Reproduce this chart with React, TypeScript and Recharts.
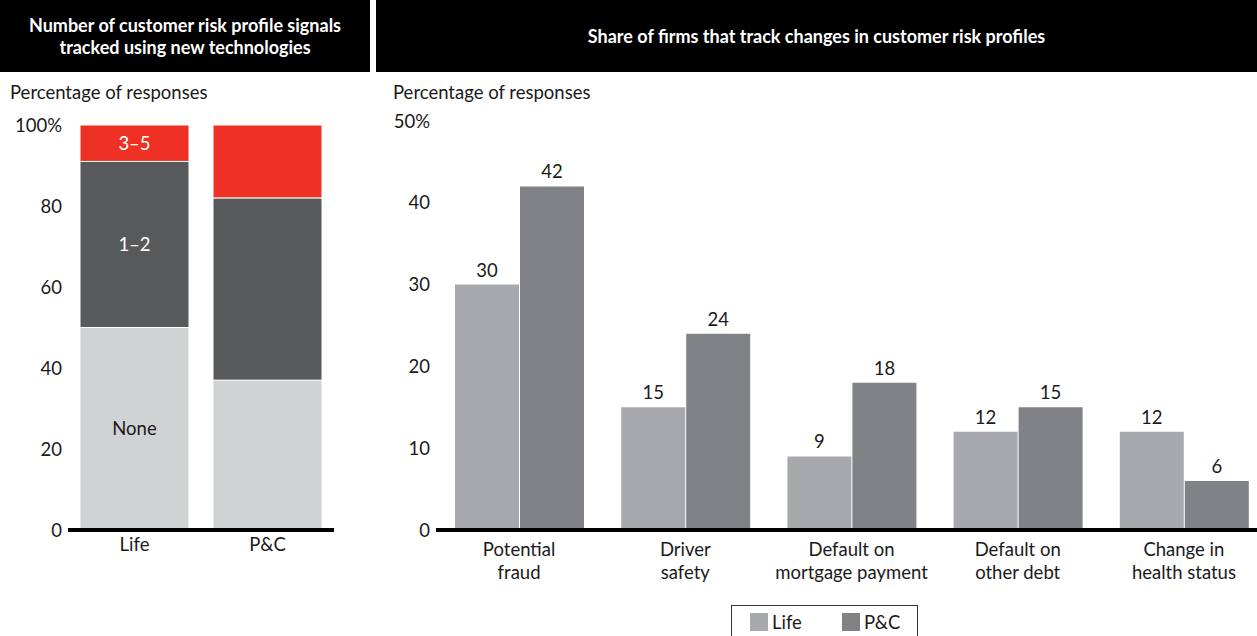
import {
  Bar,
  BarChart,
  LabelList,
  XAxis,
  YAxis,
} from "recharts";

// left panel: signals tracked (stacked, % of responses)
const segments = ["None", "1–2", "3–5"];
const insurerTypes = ["Life", "P&C"];
const noneShare = [50, 37];
const oneToTwoShare = [41, 45];
const threeToFiveShare = [9, 18];
const leftTicks = [0, 20, 40, 60, 80, 100];

// right panel: share of firms tracking changes
const riskSignals = [
  "Potential\nfraud",
  "Driver\nsafety",
  "Default on\nmortgage payment",
  "Default on\nother debt",
  "Change in\nhealth status",
];
const lifeValues = [30, 15, 9, 12, 12];
const pcValues = [42, 24, 18, 15, 6];
const rightTicks = [0, 10, 20, 30, 40, 50];

const FONT = "Lato, 'Open Sans', sans-serif";
const TEXT = "#1a1a1a";
const FS = 18.5;

const stackedData = insurerTypes.map((name, i) => ({
  name,
  none: noneShare[i],
  mid: oneToTwoShare[i],
  high: threeToFiveShare[i],
  // segment names only printed inside the first bar
  noneLabel: i === 0 ? segments[0] : "",
  midLabel: i === 0 ? segments[1] : "",
  highLabel: i === 0 ? segments[2] : "",
}));

const groupedData = riskSignals.map((name, i) => ({
  name,
  life: lifeValues[i],
  pc: pcValues[i],
}));

const tickStyle = { fill: TEXT, fontSize: FS, fontFamily: FONT };

function MultiLineTick(props: any) {
  const { x, y, payload } = props;
  const lines = String(payload.value).split("\n");
  return (
    <text x={x} y={y} textAnchor="middle" fill={TEXT} fontSize={FS} fontFamily={FONT}>
      {lines.map((l, i) => (
        <tspan key={i} x={x} dy={i === 0 ? 18 : 23}>
          {l}
        </tspan>
      ))}
    </text>
  );
}

function Header({ left, width, lines }: { left: number; width: number; lines: string[] }) {
  return (
    <div
      style={{
        position: "absolute",
        left,
        top: 0,
        width,
        height: 72,
        background: "#000",
        color: "#fff",
        fontFamily: FONT,
        fontWeight: 700,
        fontSize: 18,
        lineHeight: "22px",
        display: "flex",
        flexDirection: "column",
        justifyContent: "center",
        alignItems: "center",
        textAlign: "center",
      }}
    >
      {lines.map((l) => (
        <div key={l}>{l}</div>
      ))}
    </div>
  );
}

export default function App() {
  return (
    <div
      style={{
        position: "absolute",
        left: 0,
        top: 0,
        width: 1257,
        height: 636,
        overflow: "hidden",
        background: "#fff",
        fontFamily: FONT,
      }}
    >
      <Header
        left={0}
        width={370}
        lines={["Number of customer risk profile signals", "tracked using new technologies"]}
      />
      <Header left={376} width={881} lines={["Share of firms that track changes in customer risk profiles"]} />

      <div style={{ position: "absolute", left: 10, top: 81, fontSize: FS, color: TEXT }}>
        Percentage of responses
      </div>
      <div style={{ position: "absolute", left: 393, top: 81, fontSize: FS, color: TEXT }}>
        Percentage of responses
      </div>

      <div style={{ position: "absolute", left: 0, top: 0 }}>
        <BarChart
          width={370}
          height={570}
          data={stackedData}
          margin={{ top: 125, right: 36, bottom: 10, left: 0 }}
          barCategoryGap={12}
        >
          <YAxis
            domain={[0, 100]}
            ticks={leftTicks}
            width={68}
            axisLine={false}
            tickLine={false}
            tickSize={4}
            tickMargin={2}
            tick={tickStyle}
            tickFormatter={(v) => (v === 100 ? "100%" : String(v))}
          />
          <XAxis
            dataKey="name"
            height={30}
            axisLine={{ stroke: "#000", strokeWidth: 4 }}
            tickLine={false}
            tick={tickStyle}
            tickMargin={2}
          />
          <Bar dataKey="none" stackId="s" fill="#d1d2d4" stroke="#fff" strokeWidth={1} isAnimationActive={false}>
            <LabelList dataKey="noneLabel" position="center" fill={TEXT} fontSize={FS} fontFamily={FONT} />
          </Bar>
          <Bar dataKey="mid" stackId="s" fill="#58595b" stroke="#fff" strokeWidth={1} isAnimationActive={false}>
            <LabelList dataKey="midLabel" position="center" fill="#fff" fontSize={FS} fontFamily={FONT} />
          </Bar>
          <Bar dataKey="high" stackId="s" fill="#ee3124" stroke="#fff" strokeWidth={1} isAnimationActive={false}>
            <LabelList dataKey="highLabel" position="center" fill="#fff" fontSize={FS} fontFamily={FONT} />
          </Bar>
        </BarChart>
      </div>

      <div style={{ position: "absolute", left: 375, top: 0 }}>
        <BarChart
          width={892}
          height={600}
          data={groupedData}
          margin={{ top: 121, right: 0, bottom: 10, left: 0 }}
          barSize={64}
          barGap={1}
        >
          <YAxis
            domain={[0, 50]}
            ticks={rightTicks}
            width={61}
            axisLine={false}
            tickLine={false}
            tickSize={4}
            tickMargin={2}
            tick={tickStyle}
            tickFormatter={(v) => (v === 50 ? "50%" : String(v))}
          />
          <XAxis
            dataKey="name"
            height={60}
            interval={0}
            axisLine={{ stroke: "#000", strokeWidth: 4 }}
            tickLine={false}
            tick={<MultiLineTick />}
          />
          <Bar dataKey="life" name="Life" fill="#a7a9ac" isAnimationActive={false}>
            <LabelList dataKey="life" position="top" offset={8} fill={TEXT} fontSize={FS} fontFamily={FONT} />
          </Bar>
          <Bar dataKey="pc" name="P&C" fill="#808285" isAnimationActive={false}>
            <LabelList dataKey="pc" position="top" offset={8} fill={TEXT} fontSize={FS} fontFamily={FONT} />
          </Bar>
        </BarChart>
      </div>

      <div
        style={{
          position: "absolute",
          left: 731,
          top: 605,
          width: 187,
          height: 40,
          border: "1px solid #333",
          display: "flex",
          alignItems: "flex-start",
          paddingTop: 5,
          boxSizing: "border-box",
          fontSize: FS,
          color: TEXT,
        }}
      >
        {insurerTypes.map((name, i) => (
          <div key={name} style={{ display: "flex", alignItems: "center", marginLeft: i === 0 ? 18 : 40 }}>
            <span
              style={{
                display: "inline-block",
                width: 18,
                height: 18,
                background: i === 0 ? "#a7a9ac" : "#808285",
                marginRight: 4,
              }}
            />
            {name}
          </div>
        ))}
      </div>
    </div>
  );
}
